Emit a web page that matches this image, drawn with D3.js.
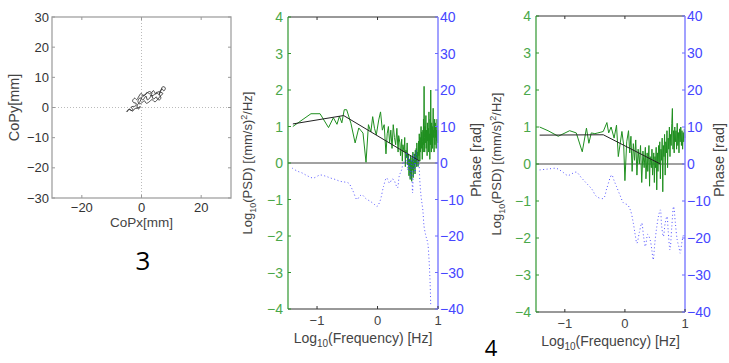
<!DOCTYPE html>
<html>
<head>
<meta charset="utf-8">
<script src="https://d3js.org/d3.v7.min.js"></script>
<style>
  body { margin: 0; background: #fff; }
  svg { font-family: "Liberation Sans", "DejaVu Sans", sans-serif; }
</style>
</head>
<body>
<div id="chart"></div>
<script>
// ---- data ----
// CoP trajectory [mm]
const copX = [-5.1,-4.2,-3.5,-2.9,-3.4,-2.0,-1.8,-2.6,-3.0,-2.3,-1.6,-1.0,-0.1,0.6,1.0,2.0,2.7,3.5,3.0,4.3,5.0,5.8,6.6,7.1,8.0,7.5,6.8,6.0,6.5,6.0,5.2,5.0,4.0,3.4,3.0,2.0,1.5,0.9,0.5,-0.5,-1.2,-0.6,0.0,1.0,1.6,2.5,3.5,4.5,5.5,6.5,7.2,5.5,4.8,4.0,3.0,1.8,1.2,0.5,-0.5,-1.5,-1.0,-0.4,-1.6,-2.2,-3.0,-4.0,-4.8];
const copY = [-1.4,-0.6,-1.0,-0.8,0.2,0.5,1.4,1.6,2.2,3.1,2.6,3.5,4.7,3.8,4.0,4.9,5.3,4.6,3.9,4.2,5.0,4.3,5.8,6.9,6.5,5.5,6.2,4.5,3.2,2.5,3.0,3.5,2.8,4.1,3.5,2.5,3.8,3.0,2.5,3.2,2.0,1.2,1.5,2.2,1.4,1.8,2.6,1.9,2.8,4.0,4.6,5.2,4.4,5.6,4.5,5.0,4.2,4.0,2.0,0.5,-0.5,0.3,-0.3,-0.3,-1.2,-0.5,-1.5];

// left PSD panel: log10 PSD
const psdAX = [-1.40,-1.10,-0.95,-0.81,-0.73,-0.67,-0.63,-0.59,-0.55,-0.51,-0.44,-0.37,-0.31,-0.27,-0.24,-0.19,-0.15,-0.11,-0.08,-0.05,-0.02,0.02,0.05,0.08,0.11,0.14,0.16,0.18,0.20,0.22,0.24,0.26,0.28,0.30,0.32,0.34,0.35,0.37,0.38,0.40,0.41,0.42,0.44,0.45,0.46,0.47,0.48,0.49,0.50,0.51,0.52,0.53,0.54,0.545,0.55,0.56,0.565,0.57,0.58,0.585,0.59,0.60,0.605,0.61,0.62,0.625,0.63,0.64,0.645,0.65,0.66,0.665,0.67,0.68,0.685,0.69,0.70,0.705,0.71,0.72,0.725,0.73,0.74,0.745,0.75,0.755,0.76,0.765,0.77,0.775,0.78,0.785,0.79,0.80,0.805,0.81,0.82,0.825,0.83,0.84,0.845,0.85,0.855,0.86,0.865,0.87,0.875,0.88,0.885,0.89,0.895,0.90,0.905,0.91,0.92,0.925,0.93,0.935,0.94,0.945,0.95,0.955,0.96,0.965,0.97,0.975,0.98,0.985,0.99,0.995,1.00];
const psdAY = [1.00,1.35,1.35,0.97,1.24,1.06,1.28,1.10,1.46,1.46,1.09,0.55,0.96,0.88,0.82,0.02,1.05,0.85,1.27,0.95,0.77,1.18,1.40,0.90,1.05,0.25,0.80,1.00,0.55,0.90,0.40,1.05,0.70,0.50,0.95,0.30,0.75,0.55,0.20,0.65,0.05,0.50,0.30,0.70,-0.10,0.35,0.15,0.55,-0.05,0.25,-0.35,0.10,-0.45,0.20,-0.30,0.05,-0.50,0.15,-0.20,0.30,-0.40,0.10,-0.15,0.25,-0.30,0.35,0.00,0.40,-0.10,0.55,0.10,0.30,-0.10,0.60,0.20,0.80,0.05,0.70,0.30,1.00,0.40,0.85,0.10,0.60,0.90,0.30,1.20,0.50,2.10,0.70,0.30,1.00,0.55,1.30,0.40,0.90,0.20,1.10,0.60,0.95,0.30,1.40,0.60,0.80,0.10,1.20,0.50,2.00,0.70,0.30,1.10,0.60,1.00,0.40,1.50,0.70,0.90,0.30,0.80,1.20,0.50,1.10,0.70,1.00,0.40,0.90,0.60,1.20,0.80,0.55,0.90];
const fitAX = [-1.40,-0.56,0.70];
const fitAY = [1.07,1.30,0.05];
const phaseAX = [-1.41,-1.33,-1.25,-1.15,-1.06,-0.95,-0.86,-0.78,-0.70,-0.62,-0.55,-0.48,-0.41,-0.34,-0.30,-0.26,-0.19,-0.12,-0.06,-0.01,0.04,0.10,0.15,0.20,0.24,0.27,0.30,0.33,0.36,0.40,0.43,0.46,0.48,0.50,0.52,0.54,0.56,0.58,0.60,0.62,0.64,0.66,0.68,0.70,0.72,0.75,0.77,0.80,0.83,0.85,0.86,0.87,0.88];
const phaseAY = [-1.4,-2.2,-2.7,-3.6,-4.1,-3.3,-3.6,-4.1,-4.5,-5.0,-5.2,-5.5,-7.5,-10.0,-9.2,-8.7,-9.8,-10.5,-11.2,-11.9,-10.5,-6.4,-4.1,-5.5,-4.4,-4.6,-5.8,-6.8,-3.5,-1.8,0.5,-0.5,3.0,-2.0,2.0,-4.0,1.5,-8.2,2.5,-3.0,3.5,-1.0,0.5,-5.0,-9.1,-13.0,-17.4,-20.0,-21.9,-26.0,-29.2,-33.0,-39.3];

// right PSD panel: log10 PSD
const psdBX = [-1.42,-1.28,-1.11,-0.92,-0.81,-0.71,-0.64,-0.60,-0.56,-0.50,-0.45,-0.40,-0.36,-0.30,-0.27,-0.23,-0.18,-0.14,-0.11,-0.05,-0.02,0.00,0.03,0.06,0.08,0.10,0.12,0.14,0.16,0.18,0.20,0.22,0.24,0.26,0.28,0.30,0.32,0.34,0.35,0.37,0.38,0.40,0.41,0.42,0.44,0.45,0.46,0.48,0.49,0.50,0.51,0.52,0.53,0.54,0.55,0.56,0.57,0.58,0.59,0.60,0.61,0.62,0.63,0.64,0.65,0.66,0.67,0.68,0.69,0.70,0.71,0.72,0.73,0.74,0.75,0.76,0.77,0.78,0.79,0.80,0.81,0.82,0.83,0.84,0.85,0.86,0.87,0.88,0.89,0.90,0.91,0.92,0.93,0.94,0.95,0.96,0.97,0.98,0.99,1.00];
const psdBY = [1.00,0.90,0.75,0.90,0.84,0.33,0.97,0.56,0.84,0.82,0.84,0.86,0.88,1.12,0.84,1.00,0.70,1.05,0.20,0.88,0.50,-0.45,0.60,0.90,0.30,0.75,-0.20,0.55,0.10,0.65,-0.30,0.40,0.00,0.50,-0.50,0.35,-0.10,0.45,-0.40,0.30,-0.20,0.50,-0.60,0.20,-0.10,0.40,-0.30,0.30,-0.50,0.20,-0.10,0.45,-0.70,0.30,-0.20,0.50,0.00,0.60,-0.40,0.40,0.10,0.70,-0.75,0.50,0.20,0.80,-0.30,0.60,0.30,0.90,-0.10,0.70,0.40,1.00,0.20,0.80,0.50,1.10,1.50,0.40,0.90,0.30,1.00,0.60,0.90,0.40,1.10,0.50,0.85,0.30,0.95,0.60,1.00,0.50,0.90,0.40,0.85,0.60,0.95,0.70];
const fitBX = [-1.42,-0.36,0.59];
const fitBY = [0.78,0.79,0.00];
const phaseBX = [-1.42,-1.30,-1.14,-1.05,-0.95,-0.88,-0.81,-0.72,-0.64,-0.55,-0.47,-0.36,-0.30,-0.22,-0.18,-0.14,-0.08,-0.02,0.04,0.09,0.14,0.17,0.20,0.24,0.28,0.31,0.34,0.38,0.42,0.45,0.47,0.50,0.53,0.56,0.59,0.61,0.64,0.67,0.70,0.72,0.75,0.78,0.81,0.84,0.87,0.90,0.92,0.95,0.98,1.00];
const phaseBY = [-1.6,-1.4,-1.2,-2.0,-3.1,-2.6,-2.2,-3.8,-5.2,-6.8,-8.8,-9.3,-6.5,-3.0,-4.5,-6.1,-8.5,-10.6,-11.0,-12.4,-16.0,-19.0,-21.4,-18.5,-16.0,-19.5,-22.3,-19.0,-20.5,-23.5,-25.9,-21.0,-17.0,-14.0,-12.4,-16.5,-19.6,-16.0,-14.2,-18.0,-23.2,-17.0,-11.5,-16.0,-20.5,-22.5,-24.1,-21.0,-19.0,-20.0];

const copTicksX = [-20, 0, 20];
const copTicksY = [-30, -20, -10, 0, 10, 20, 30];
const psdTicks = [-4, -3, -2, -1, 0, 1, 2, 3, 4];
const phaseTicks = [-40, -30, -20, -10, 0, 10, 20, 30, 40];
const freqTicks = [-1, 0, 1];

// ---- drawing ----
const svg = d3.select("#chart").append("svg")
    .attr("width", 729).attr("height", 363);

const fmt = d => d < 0 ? "\u2212" + Math.abs(d) : String(d);
const tickFont = 13;

// CoP panel
{
    const x = d3.scaleLinear().domain([-30, 30]).range([52, 231]);
    const y = d3.scaleLinear().domain([-30, 30]).range([198, 17]);
    const g = svg.append("g");
    g.append("line").attr("x1", x(0)).attr("x2", x(0)).attr("y1", y(30)).attr("y2", y(-30))
        .attr("stroke", "#bbb").attr("stroke-dasharray", "1,2");
    g.append("line").attr("x1", x(-30)).attr("x2", x(30)).attr("y1", y(0)).attr("y2", y(0))
        .attr("stroke", "#bbb").attr("stroke-dasharray", "1,2");

    const line = d3.line().x(d => x(d[0])).y(d => y(d[1])).curve(d3.curveCatmullRom);
    g.append("path").datum(d3.zip(copX, copY)).attr("d", line)
        .attr("fill", "none").attr("stroke", "#333").attr("stroke-width", 0.9);

    g.append("rect").attr("x", x(-30)).attr("y", y(30))
        .attr("width", x(30) - x(-30)).attr("height", y(-30) - y(30))
        .attr("fill", "none").attr("stroke", "#a8a8a8").attr("stroke-width", 1.4);

    copTicksX.forEach(t => {
        g.append("line").attr("x1", x(t)).attr("x2", x(t)).attr("y1", y(-30)).attr("y2", y(-30) - 3).attr("stroke", "#999");
        g.append("line").attr("x1", x(t)).attr("x2", x(t)).attr("y1", y(30)).attr("y2", y(30) + 3).attr("stroke", "#999");
        g.append("text").attr("x", x(t)).attr("y", 212).attr("text-anchor", "middle")
            .attr("font-size", tickFont).attr("fill", "#333").text(fmt(t));
    });
    copTicksY.forEach(t => {
        g.append("line").attr("x1", x(-30)).attr("x2", x(-30) + 3).attr("y1", y(t)).attr("y2", y(t)).attr("stroke", "#999");
        g.append("line").attr("x1", x(30)).attr("x2", x(30) - 3).attr("y1", y(t)).attr("y2", y(t)).attr("stroke", "#999");
        g.append("text").attr("x", 49).attr("y", y(t) + 4.5).attr("text-anchor", "end")
            .attr("font-size", tickFont).attr("fill", "#333").text(fmt(t));
    });
    g.append("text").attr("x", x(0)).attr("y", 227).attr("text-anchor", "middle")
        .attr("font-size", 13.5).attr("fill", "#444").text("CoPx[mm]");
    g.append("text").attr("transform", `translate(19,${y(0)}) rotate(-90)`).attr("text-anchor", "middle")
        .attr("font-size", 14.5).attr("fill", "#444").text("CoPy[mm]");
    svg.append("text").attr("x", 143).attr("y", 270).attr("text-anchor", "middle")
        .attr("font-family", "Open Sans, Noto Sans, sans-serif")
        .attr("font-size", 26).attr("fill", "#000").text("3");
}

function psdPanel(opt) {
    const x = d3.scaleLinear().domain([-1.48, 1]).range([opt.left, opt.right]);
    const y = d3.scaleLinear().domain([-4, 4]).range([opt.bottom, opt.top]);
    const yp = d3.scaleLinear().domain([-40, 40]).range([opt.bottom, opt.top]);
    const g = svg.append("g");

    // zero line
    g.append("line").attr("x1", opt.left).attr("x2", opt.right).attr("y1", y(0)).attr("y2", y(0))
        .attr("stroke", "#444").attr("stroke-width", 1);

    const line = d3.line().x(d => x(d[0])).y(d => y(d[1]));
    g.append("path").datum(d3.zip(opt.psdX, opt.psdY)).attr("d", line)
        .attr("fill", "none").attr("stroke", "#1f8f1f").attr("stroke-width", 1);
    g.append("path").datum(d3.zip(opt.fitX, opt.fitY)).attr("d", line)
        .attr("fill", "none").attr("stroke", "#222").attr("stroke-width", 1);
    const pline = d3.line().x(d => x(d[0])).y(d => yp(d[1])).curve(d3.curveCatmullRom);
    g.append("path").datum(d3.zip(opt.phX, opt.phY)).attr("d", pline)
        .attr("fill", "none").attr("stroke", "#3b3bff").attr("stroke-width", 1)
        .attr("stroke-dasharray", "1,2.5").attr("opacity", 0.85);

    // frame
    g.append("line").attr("x1", opt.left).attr("x2", opt.right).attr("y1", opt.top).attr("y2", opt.top)
        .attr("stroke", "#333");
    g.append("line").attr("x1", opt.left).attr("x2", opt.right).attr("y1", opt.bottom).attr("y2", opt.bottom)
        .attr("stroke", "#333");
    g.append("line").attr("x1", opt.left).attr("x2", opt.left).attr("y1", opt.top).attr("y2", opt.bottom)
        .attr("stroke", "#2e962e").attr("stroke-width", 1.2);
    g.append("line").attr("x1", opt.right).attr("x2", opt.right).attr("y1", opt.top).attr("y2", opt.bottom)
        .attr("stroke", "#8a8aff").attr("stroke-width", 1.6);

    freqTicks.forEach(t => {
        g.append("line").attr("x1", x(t)).attr("x2", x(t)).attr("y1", opt.bottom).attr("y2", opt.bottom - 3).attr("stroke", "#333");
        if (t < 1) g.append("line").attr("x1", x(t)).attr("x2", x(t)).attr("y1", opt.top).attr("y2", opt.top + 3).attr("stroke", "#333");
        g.append("text").attr("x", x(t)).attr("y", opt.bottom + 16).attr("text-anchor", "middle")
            .attr("font-size", tickFont).attr("fill", "#444").text(fmt(t));
    });
    psdTicks.forEach(t => {
        g.append("line").attr("x1", opt.left).attr("x2", opt.left + 3).attr("y1", y(t)).attr("y2", y(t)).attr("stroke", "#2e962e");
        g.append("text").attr("x", opt.left - 5).attr("y", y(t) + 5).attr("text-anchor", "end")
            .attr("font-size", tickFont + 1).attr("fill", "#4aa84a").text(fmt(t));
    });
    phaseTicks.forEach(t => {
        g.append("line").attr("x1", opt.right).attr("x2", opt.right - 3).attr("y1", yp(t)).attr("y2", yp(t)).attr("stroke", "#6a6aff");
        g.append("text").attr("x", opt.right + 2).attr("y", yp(t) + 5).attr("text-anchor", "start")
            .attr("font-size", tickFont + 1).attr("fill", "#4646ff").text(fmt(t));
    });

    // axis labels
    const xl = g.append("text").attr("x", (opt.left + opt.right) / 2).attr("y", opt.bottom + 34)
        .attr("text-anchor", "middle").attr("font-size", 14).attr("fill", "#444");
    xl.append("tspan").text("Log");
    xl.append("tspan").attr("dy", 4).attr("font-size", 10).text("10");
    xl.append("tspan").attr("dy", -4).text("(Frequency) [Hz]");

    const yl = g.append("text").attr("transform", `translate(${opt.ylabX},${(opt.top + opt.bottom) / 2}) rotate(-90)`)
        .attr("text-anchor", "middle").attr("font-size", 13).attr("fill", "#444");
    yl.append("tspan").text("Log");
    yl.append("tspan").attr("dy", 4).attr("font-size", 9).text("10");
    yl.append("tspan").attr("dy", -4).text("(PSD) [(mm/s)");
    yl.append("tspan").attr("dy", -5).attr("font-size", 9).text("2");
    yl.append("tspan").attr("dy", 5).text("/Hz]");

    g.append("text").attr("transform", `translate(${opt.phLabX},${opt.phLabY}) rotate(-90)`)
        .attr("text-anchor", "middle").attr("font-size", 14.5).attr("fill", "#444").text("Phase [rad]");
}

psdPanel({left: 288, right: 438, top: 17, bottom: 309, ylabX: 252, phLabX: 481, phLabY: 160,
    psdX: psdAX, psdY: psdAY, fitX: fitAX, fitY: fitAY, phX: phaseAX, phY: phaseAY});
psdPanel({left: 536, right: 685, top: 16, bottom: 312, ylabX: 501, phLabX: 724, phLabY: 160,
    psdX: psdBX, psdY: psdBY, fitX: fitBX, fitY: fitBY, phX: phaseBX, phY: phaseBY});

svg.append("text").attr("x", 491).attr("y", 356).attr("text-anchor", "middle")
    .attr("font-family", "Open Sans, Noto Sans, sans-serif")
    .attr("font-size", 22).attr("fill", "#000").text("4");
</script>
</body>
</html>
